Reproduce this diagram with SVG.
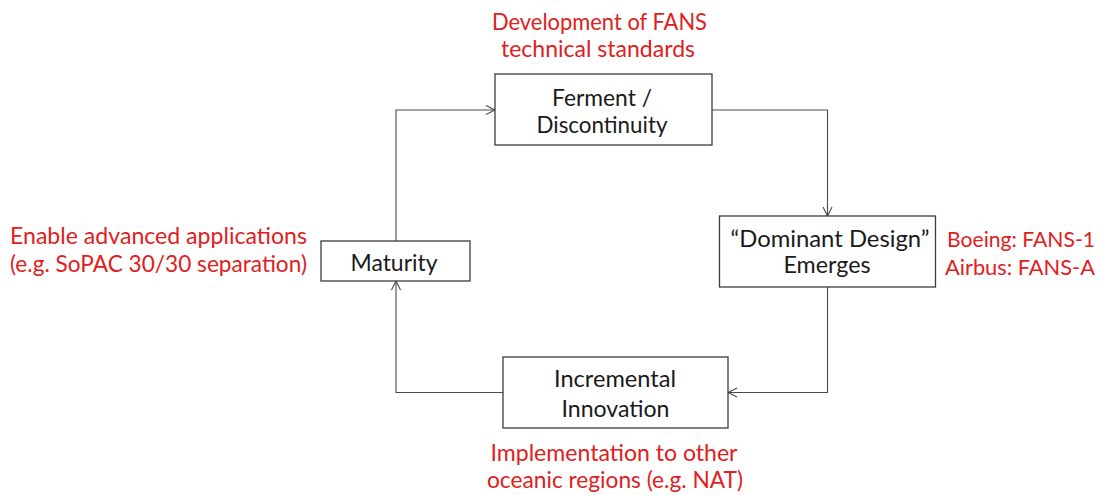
<svg xmlns="http://www.w3.org/2000/svg" width="1104" height="495" viewBox="0 0 1104 495">
<defs>
<marker id="arr" markerUnits="userSpaceOnUse" markerWidth="12" markerHeight="12" viewBox="0 0 12 12" refX="10" refY="6" orient="auto">
<polyline points="1,1.5 10,6 1,10.5" fill="none" stroke="#4a4a4a" stroke-width="1.1"/>
</marker>
<style>
.box{fill:#fff;stroke:#3c3c3c;stroke-width:1.3}
.lbl{font-family:Lato,"Open Sans","Liberation Sans",sans-serif;font-size:23px;fill:#1a1a1a;text-anchor:middle}
.red{font-family:Lato,"Open Sans","Liberation Sans",sans-serif;font-size:23px;fill:#e0201c}
.sm{font-size:22px}
.con{fill:none;stroke:#4a4a4a;stroke-width:1.1;marker-end:url(#arr)}
</style>
</defs>
<rect width="1104" height="495" fill="#fff"/>
<g id="connectors">
<polyline class="con" points="712,110 827.5,110 827.5,216"/>
<polyline class="con" points="827.5,287 827.5,392.5 728,392.5"/>
<polyline class="con" points="503,392.5 396,392.5 396,281"/>
<polyline class="con" points="396,241 396,110 495,110"/>
</g>
<g id="ferment">
<rect class="box" x="495" y="74" width="217" height="71"/>
<text class="lbl" x="602" y="106" textLength="100" lengthAdjust="spacingAndGlyphs">Ferment /</text>
<text class="lbl" x="602" y="133" textLength="131" lengthAdjust="spacingAndGlyphs">Discontinuity</text>
</g>
<g id="dominant">
<rect class="box" x="719.5" y="216" width="216" height="71"/>
<text class="lbl" x="830" y="247" textLength="199" lengthAdjust="spacingAndGlyphs">“Dominant Design”</text>
<text class="lbl" x="827" y="273" textLength="87" lengthAdjust="spacingAndGlyphs">Emerges</text>
</g>
<g id="incremental">
<rect class="box" x="503" y="357" width="225" height="71"/>
<text class="lbl" x="615" y="387" textLength="122" lengthAdjust="spacingAndGlyphs">Incremental</text>
<text class="lbl" x="615.5" y="417" textLength="108" lengthAdjust="spacingAndGlyphs">Innovation</text>
</g>
<g id="maturity">
<rect class="box" x="321" y="241" width="149" height="40"/>
<text class="lbl" x="394" y="270.5" textLength="87" lengthAdjust="spacingAndGlyphs">Maturity</text>
</g>
<g id="annotations">
<text class="red" x="599.5" y="30" text-anchor="middle" textLength="215" lengthAdjust="spacingAndGlyphs">Development of FANS</text>
<text class="red" x="598" y="57" text-anchor="middle" textLength="194" lengthAdjust="spacingAndGlyphs">technical standards</text>
<text class="red" x="307" y="244" text-anchor="end" textLength="297" lengthAdjust="spacingAndGlyphs">Enable advanced applications</text>
<text class="red" x="307" y="272" text-anchor="end" textLength="297" lengthAdjust="spacingAndGlyphs">(e.g. SoPAC 30/30 separation)</text>
<text class="red sm" x="1021" y="247" text-anchor="middle" textLength="148" lengthAdjust="spacingAndGlyphs">Boeing: FANS-1</text>
<text class="red sm" x="1020" y="275" text-anchor="middle" textLength="150" lengthAdjust="spacingAndGlyphs">Airbus: FANS-A</text>
<text class="red" x="614" y="461" text-anchor="middle" textLength="247" lengthAdjust="spacingAndGlyphs">Implementation to other</text>
<text class="red" x="615" y="488" text-anchor="middle" textLength="256" lengthAdjust="spacingAndGlyphs">oceanic regions (e.g. NAT)</text>
</g>
</svg>
